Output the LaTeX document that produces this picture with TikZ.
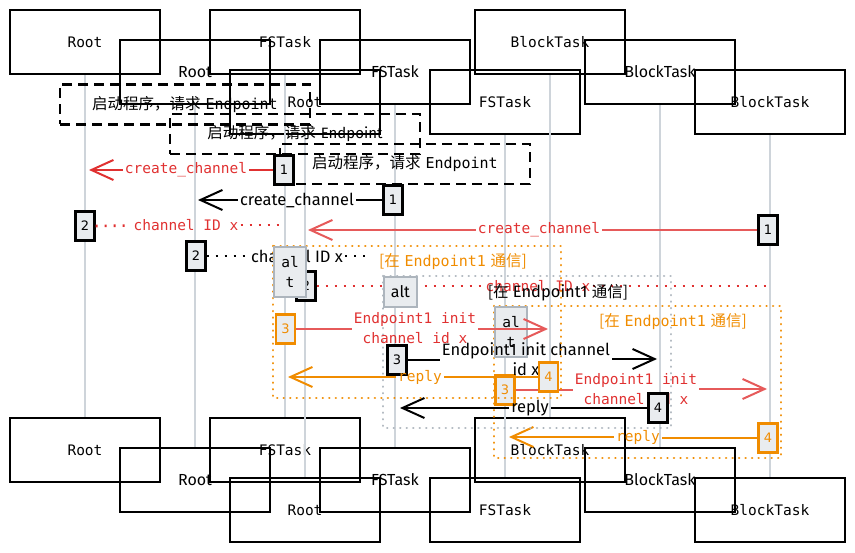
\documentclass[tikz,border=0pt]{standalone}
\usepackage{fontspec}
\setmainfont{DejaVu Sans}
\setmonofont{DejaVu Sans Mono}
\newfontfamily\cjk{Noto Sans CJK SC}
\newfontfamily\hand{Fira Sans}
\usetikzlibrary{arrows.meta}

\definecolor{msgred}{HTML}{E03131}
\definecolor{msgorange}{HTML}{F08C00}
\definecolor{lifegray}{HTML}{CED4DA}
\definecolor{tagfill}{HTML}{E9ECEF}
\definecolor{taggray}{HTML}{ADB5BD}

% mixed Chinese / Latin texts
\newcommand{\zhtt}[1]{{\cjk\fontsize{15.5}{15.5}\selectfont #1}}
\newcommand{\notetext}{\zhtt{启动程序，请求}\ {\ttfamily Endpoint}}
\newcommand{\alttitle}{\zhtt{[在}\ {\ttfamily Endpoint1}\ \zhtt{通信]}}
\newcommand{\handnote}{\zhtt{启动程序，请求}\ {\hand Endpoint}}
\newcommand{\handtitle}{\zhtt{[在}\ {\hand Endpoint1}\ \zhtt{通信]}}

\tikzset{
  actor/.style={draw, line width=2.2pt, minimum width=150pt, minimum height=64pt, inner sep=0pt},
  lifeline/.style={draw=lifegray, line width=2pt},
  notebox/.style={draw, line width=2.2pt, dash pattern=on 10pt off 6pt, minimum width=250pt, minimum height=40pt,
    font=\fontsize{15}{15}\selectfont},
  seqno/.style={draw, line width=2.2pt, fill=tagfill, minimum width=19pt, minimum height=29pt, inner sep=0pt,
    font=\fontsize{13}{13}\selectfont},
  alttag/.style={draw=taggray, line width=2pt, fill=tagfill, inner sep=0pt, align=center, anchor=north west},
  altframe/.style={line width=2.6pt, dash pattern=on 0.01pt off 6.5pt, line cap=round},
  msg/.style={line width=2pt, -{Straight Barb[length=22pt,width=20pt,line width=2pt]}},
  back/.style={line width=2.6pt, dash pattern=on 2pt off 7pt},
  lbl/.style={inner sep=2pt, align=center, font=\ttfamily\fontsize{14.5}{20}\selectfont},
  hlbl/.style={inner sep=2pt, align=center, font=\hand\fontsize{16.5}{20}\selectfont},
  mono/.style={font=\ttfamily\fontsize{14.5}{14.5}\selectfont},
  handfont/.style={font=\hand\fontsize{16}{16}\selectfont},
}

\begin{document}
\begin{tikzpicture}[x=1pt,y=-1pt]
\useasboundingbox (0,0) rectangle (855,553);

% heads and feet, three copies
\node[actor, mono] (rootA) at (85,42) {Root};
\node[actor, mono] (fsA) at (285,42) {FSTask};
\node[actor, mono] (blkA) at (550,42) {BlockTask};
\node[actor, mono] (rootAe) at (85,450) {Root};
\node[actor, mono] (fsAe) at (285,450) {FSTask};
\node[actor, mono] (blkAe) at (550,450) {BlockTask};

\node[actor, handfont] (rootB) at (195,72) {Root};
\node[actor, handfont] (fsB) at (395,72) {FSTask};
\node[actor, handfont] (blkB) at (660,72) {BlockTask};
\node[actor, handfont] (rootBe) at (195,480) {Root};
\node[actor, handfont] (fsBe) at (395,480) {FSTask};
\node[actor, handfont] (blkBe) at (660,480) {BlockTask};

\node[actor, mono] (rootC) at (305,102) {Root};
\node[actor, mono] (fsC) at (505,102) {FSTask};
\node[actor, mono] (blkC) at (770,102) {BlockTask};
\node[actor, mono] (rootCe) at (305,510) {Root};
\node[actor, mono] (fsCe) at (505,510) {FSTask};
\node[actor, mono] (blkCe) at (770,510) {BlockTask};

% lifelines
\draw[lifeline] (rootA) -- (rootAe);
\draw[lifeline] (fsA) -- (fsAe);
\draw[lifeline] (blkA) -- (blkAe);
\draw[lifeline] (rootB) -- (rootBe);
\draw[lifeline] (fsB) -- (fsBe);
\draw[lifeline] (blkB) -- (blkBe);
\draw[lifeline] (rootC) -- (rootCe);
\draw[lifeline] (fsC) -- (fsCe);
\draw[lifeline] (blkC) -- (blkCe);

% notes
\node[notebox] (noteA) at (185,104.5) {\notetext};
\node[notebox] (noteB) at (295,134) {\handnote};
\node[notebox] (noteC) at (405,164) {\notetext};

% --- third copy
\node[seqno] (nC1) at (768,230) {1};
\node[lbl, text=msgred] (mC1) at (539,230) {create\_channel};
\coordinate (tC1) at (308,230);
\draw[msgred!80, line width=2pt] (nC1) -- (mC1);
\draw[msgred!80, msg] (mC1) -- (tC1);

\node[seqno] (nC2) at (306,286) {2};
\node[lbl, text=msgred] (mC2) at (538,286) {channel ID x};
\coordinate (tC2) at (767,286);
\draw[msgred, back] (nC2) -- (mC2);
\draw[msgred, back] (mC2) -- (tC2);

\draw[msgorange, altframe] (494,306) rectangle (781,458);
\node[alttag, minimum width=32pt, minimum height=50pt, font=\ttfamily\fontsize{14.5}{20}\selectfont] (altC) at (494,306) {al\\t};
\node[text=msgorange, font=\fontsize{15}{15}\selectfont] (titC) at (673,322) {\alttitle};

\node[seqno, draw=msgorange, text=msgorange] (nC3) at (505,390) {3};
\node[lbl, text=msgred] (mC3) at (636,389) {Endpoint1 init\\channel id x};
\coordinate (tC3) at (767,389);
\draw[msgred!80, line width=2pt] (nC3) -- (nC3 -| mC3.west);
\draw[msgred!80, msg] (mC3) -- (tC3);

\node[seqno, draw=msgorange, text=msgorange] (nC4) at (768,438) {4};
\node[lbl, text=msgorange] (mC4) at (638,437) {reply};
\coordinate (tC4) at (509,437);
\draw[msgorange, line width=2pt] (nC4) -- (nC4 -| mC4.east);
\draw[msgorange, msg] (mC4) -- (tC4);

% --- second copy
\node[seqno] (nB1) at (393,200) {1};
\node[hlbl] (mB1) at (297,200) {create\_channel};
\coordinate (tB1) at (198,200);
\draw[line width=2pt] (nB1) -- (mB1);
\draw[msg] (mB1) -- (tB1);

\node[seqno] (nB2) at (196,256) {2};
\node[hlbl] (mB2) at (297,256) {channel ID x};
\coordinate (tB2) at (372,256);
\draw[back] (nB2) -- (mB2);
\draw[back] (mB2) -- (tB2);

\draw[taggray, altframe] (383,276) rectangle (671,428);
\node[alttag, minimum width=33pt, minimum height=30pt, handfont] (altB) at (383,276) {alt};
\node[font=\fontsize{16.5}{16.5}\selectfont\hand] (titB) at (558,293) {\handtitle};

\node[seqno] (nB3) at (397,360) {3};
\node[hlbl] (mB3) at (526,359) {Endpoint1 init channel\\id x};
\coordinate (tB3) at (657,359);
\draw[line width=2pt] (nB3) -- (nB3 -| mB3.west);
\draw[msg] (mB3) -- (tB3);

\node[seqno] (nB4) at (658,408) {4};
\node[hlbl] (mB4) at (530,408) {reply};
\coordinate (tB4) at (400,408);
\draw[line width=2pt] (nB4) -- (mB4);
\draw[msg] (mB4) -- (tB4);

% --- first copy
\node[seqno] (nA1) at (284,170) {1};
\node[lbl, text=msgred] (mA1) at (186,170) {create\_channel};
\coordinate (tA1) at (89,170);
\draw[msgred, line width=2pt] (nA1) -- (mA1);
\draw[msgred, msg] (mA1) -- (tA1);

\node[seqno] (nA2) at (85,226) {2};
\node[lbl, text=msgred] (mA2) at (186,225) {channel ID x};
\coordinate (tA2) at (280,225);
\draw[msgred, back] (nA2 -| nA2.east) -- (mA2);
\draw[msgred, back] (mA2) -- (tA2);

\draw[msgorange, altframe] (273,246) rectangle (561,398);
\node[alttag, minimum width=32pt, minimum height=50pt, font=\ttfamily\fontsize{14.5}{20}\selectfont] (altA) at (273,246) {al\\t};
\node[text=msgorange, font=\fontsize{15}{15}\selectfont] (titA) at (453,262) {\alttitle};

\node[seqno, draw=msgorange, text=msgorange] (nA3) at (285.5,329) {3};
\node[lbl, text=msgred] (mA3) at (415,328) {Endpoint1 init\\channel id x};
\coordinate (tA3) at (548,329);
\draw[msgred!80, line width=2pt] (nA3) -- (nA3 -| mA3.west);
\draw[msgred!80, msg] (nA3 -| mA3.east) -- (tA3);

\node[seqno, draw=msgorange, text=msgorange] (nA4) at (548.5,377) {4};
\node[lbl, text=msgorange] (mA4) at (420,377) {reply};
\coordinate (tA4) at (288,377);
\draw[msgorange, line width=2pt] (nA4) -- (mA4);
\draw[msgorange, msg] (mA4) -- (tA4);
\end{tikzpicture}
\end{document}
